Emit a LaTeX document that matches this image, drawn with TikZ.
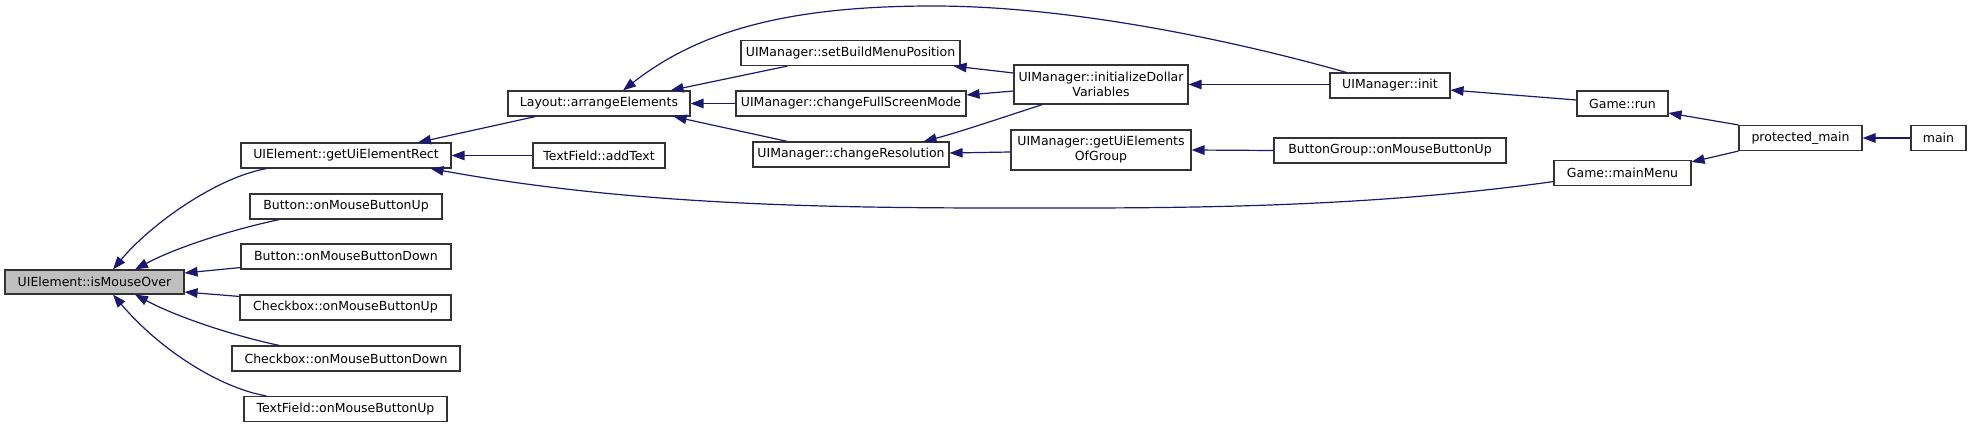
\documentclass[tikz,border=0pt]{standalone}
\usepackage{fontspec}
\setmainfont{DejaVu Sans}
\usetikzlibrary{arrows.meta,calc}
\definecolor{edgeblue}{HTML}{191970}
\definecolor{hilite}{HTML}{BFBFBF}
\definecolor{boxline}{HTML}{333333}
\begin{document}
\begin{tikzpicture}[x=1pt,y=-1pt,
  fn/.style={draw=boxline,line width=1.1pt,fill=white,inner sep=0pt,minimum height=25pt,
     font=\fontsize{12.5pt}{15pt}\selectfont,align=center},
  edge/.style={draw=edgeblue,line width=1.2pt,-{Triangle[length=13pt,width=9.5pt]}}]
\useasboundingbox (0,0) rectangle (1968,428);
% nodes
\node[fn,fill=hilite,minimum width=179pt,minimum height=24pt] (ime) at (94.5,282) {UIElement::isMouseOver};
\node[fn,minimum width=210pt] (gur) at (346,155.5) {UIElement::getUiElementRect};
\node[fn,minimum width=192pt] (bup) at (346,206.5) {Button::onMouseButtonUp};
\node[fn,minimum width=210pt] (bdown) at (346,256.5) {Button::onMouseButtonDown};
\node[fn,minimum width=211pt] (cup) at (345.5,307.5) {Checkbox::onMouseButtonUp};
\node[fn,minimum width=228pt] (cdown) at (346,358.5) {Checkbox::onMouseButtonDown};
\node[fn,minimum width=203pt] (tfup) at (345.5,409) {TextField::onMouseButtonUp};
\node[fn,minimum width=182pt] (arr) at (599,103.5) {Layout::arrangeElements};
\node[fn,minimum width=132pt] (addt) at (599,155.5) {TextField::addText};
\node[fn,minimum width=219pt] (sbm) at (850.5,53) {UIManager::setBuildMenuPosition};
\node[fn,minimum width=230pt] (cfs) at (851,103.5) {UIManager::changeFullScreenMode};
\node[fn,minimum width=196pt] (cres) at (851,154.5) {UIManager::changeResolution};
\node[fn,minimum width=174pt,minimum height=39pt] (idv) at (1101,84.5) {UIManager::initializeDollar\\Variables};
\node[fn,minimum width=180pt,minimum height=40pt] (gueg) at (1101,150) {UIManager::getUiElements\\OfGroup};
\node[fn,minimum width=120pt] (init) at (1390,85.5) {UIManager::init};
\node[fn,minimum width=232pt] (bg) at (1390,150.5) {ButtonGroup::onMouseButtonUp};
\node[fn,minimum width=91pt] (run) at (1622.5,103.5) {Game::run};
\node[fn,minimum width=137pt] (mm) at (1622.5,173) {Game::mainMenu};
\node[fn,minimum width=123pt] (pm) at (1800.5,138) {protected\_main};
\node[fn,minimum width=55pt] (main) at (1938.5,138) {main};
% edges into isMouseOver
\draw[edge] ($(gur.south west)+(26,0)$) .. controls (215,178) and (150,225) .. ($(ime.north)+(18.5,0)$);
\draw[edge] ($(bup.south west)+(30,0)$) .. controls (230,230) and (175,248) .. ($(ime.north)+(40.5,0)$);
\draw[edge] ($(bdown.south west)+(0,-2)$) -- ($(ime.east)+(0,-9)$);
\draw[edge] ($(cup.north west)+(0,2)$) -- ($(ime.east)+(0,10)$);
\draw[edge] ($(cdown.north west)+(48,0)$) .. controls (230,335) and (175,316) .. ($(ime.south)+(40.5,0)$);
\draw[edge] ($(tfup.north west)+(23,0)$) .. controls (220,388) and (160,350) .. ($(ime.south)+(18.5,0)$);
% edges into getUiElementRect
\draw[edge] ($(arr.south west)+(28,0)$) -- ($(gur.north)+(72,0)$);
\draw[edge] (addt.west) -- (gur.east);
\draw[edge] ($(mm.south west)+(0,-4.5)$) .. controls (1350,210) and (1150,208) .. (1000,208)
   .. controls (800,208) and (620,203) .. ($(gur.south east)+(-21,0)$);
% edges into arrangeElements
\draw[edge] ($(init.north west)+(17,0)$) .. controls (1250,45) and (1080,6) .. (933,6)
   .. controls (790,6) and (700,30) .. ($(arr.north)+(24,0)$);
\draw[edge] ($(sbm.south west)+(47,0)$) -- ($(arr.north east)+(-20,0)$);
\draw[edge] (cfs.west) -- (arr.east);
\draw[edge] ($(cres.north west)+(35,0)$) -- ($(arr.south east)+(-17,0)$);
% edges into UIManager functions
\draw[edge] ($(idv.west)+(0,-11.5)$) -- ($(sbm.south east)+(-7,0)$);
\draw[edge] ($(idv.west)+(0,6.5)$) -- ($(cfs.east)+(0,-8.5)$);
\draw[edge] ($(idv.south west)+(29,0)$) .. controls (1010,115) and (960,132) .. ($(cres.north east)+(-26,0)$);
\draw[edge] ($(gueg.west)+(0,2)$) -- ($(cres.east)+(0,-1.5)$);
\draw[edge] ($(init.west)+(0,-1)$) -- (idv.east);
\draw[edge] (bg.west) -- (gueg.east);
% right part
\draw[edge] ($(run.west)+(0,-3.5)$) -- ($(init.east)+(0,4.5)$);
\draw[edge] (pm.north west) -- ($(run.east)+(0,9.5)$);
\draw[edge] (pm.south west) -- ($(mm.east)+(0,-11)$);
\draw[edge] (main.west) -- (pm.east);
\end{tikzpicture}
\end{document}
